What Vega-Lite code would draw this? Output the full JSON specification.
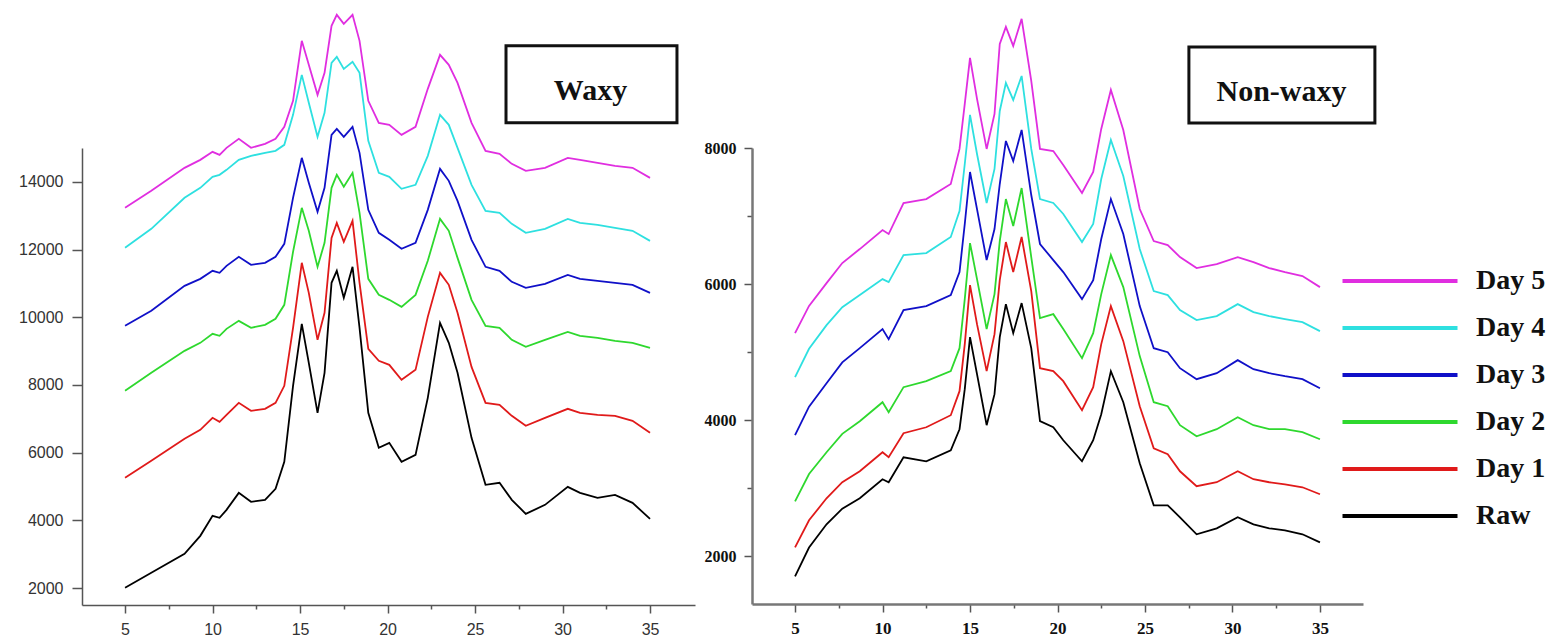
{
"$schema": "https://vega.github.io/schema/vega-lite/v6.json",
"padding": {"left": 18, "top": 11, "right": 5, "bottom": 0},
"background": "white",
"spacing": 57,
"bounds": "flush",
"data": {"values": [
{"p":"W","s":"Raw","x":5,"v":2007},{"p":"W","s":"Raw","x":6.5,"v":2450},{"p":"W","s":"Raw","x":8.4,"v":3011},{"p":"W","s":"Raw","x":9.3,"v":3543},{"p":"W","s":"Raw","x":10,"v":4134},{"p":"W","s":"Raw","x":10.4,"v":4075},{"p":"W","s":"Raw","x":10.8,"v":4311},{"p":"W","s":"Raw","x":11.5,"v":4813},{"p":"W","s":"Raw","x":12.2,"v":4548},{"p":"W","s":"Raw","x":13,"v":4607},{"p":"W","s":"Raw","x":13.6,"v":4932},{"p":"W","s":"Raw","x":14.1,"v":5729},{"p":"W","s":"Raw","x":14.6,"v":7974},{"p":"W","s":"Raw","x":15.1,"v":9806},{"p":"W","s":"Raw","x":15.5,"v":8654},{"p":"W","s":"Raw","x":16,"v":7177},{"p":"W","s":"Raw","x":16.4,"v":8358},{"p":"W","s":"Raw","x":16.8,"v":11017},{"p":"W","s":"Raw","x":17.1,"v":11371},{"p":"W","s":"Raw","x":17.5,"v":10574},{"p":"W","s":"Raw","x":18,"v":11489},{"p":"W","s":"Raw","x":18.4,"v":9688},{"p":"W","s":"Raw","x":18.9,"v":7177},{"p":"W","s":"Raw","x":19.5,"v":6143},{"p":"W","s":"Raw","x":20.1,"v":6290},{"p":"W","s":"Raw","x":20.8,"v":5729},{"p":"W","s":"Raw","x":21.6,"v":5936},{"p":"W","s":"Raw","x":22.3,"v":7620},{"p":"W","s":"Raw","x":23,"v":9835},{"p":"W","s":"Raw","x":23.5,"v":9244},{"p":"W","s":"Raw","x":24,"v":8358},{"p":"W","s":"Raw","x":24.8,"v":6438},{"p":"W","s":"Raw","x":25.6,"v":5050},{"p":"W","s":"Raw","x":26.4,"v":5109},{"p":"W","s":"Raw","x":27.1,"v":4607},{"p":"W","s":"Raw","x":27.9,"v":4193},{"p":"W","s":"Raw","x":29,"v":4459},{"p":"W","s":"Raw","x":30.3,"v":4991},{"p":"W","s":"Raw","x":31,"v":4813},{"p":"W","s":"Raw","x":32,"v":4666},{"p":"W","s":"Raw","x":33,"v":4754},{"p":"W","s":"Raw","x":34,"v":4518},{"p":"W","s":"Raw","x":35,"v":4045},
{"p":"W","s":"Day 1","x":5,"v":5256},{"p":"W","s":"Day 1","x":6.5,"v":5759},{"p":"W","s":"Day 1","x":8.4,"v":6409},{"p":"W","s":"Day 1","x":9.3,"v":6674},{"p":"W","s":"Day 1","x":10,"v":7029},{"p":"W","s":"Day 1","x":10.4,"v":6911},{"p":"W","s":"Day 1","x":10.8,"v":7118},{"p":"W","s":"Day 1","x":11.5,"v":7472},{"p":"W","s":"Day 1","x":12.2,"v":7236},{"p":"W","s":"Day 1","x":13,"v":7295},{"p":"W","s":"Day 1","x":13.6,"v":7472},{"p":"W","s":"Day 1","x":14.1,"v":7974},{"p":"W","s":"Day 1","x":14.6,"v":9688},{"p":"W","s":"Day 1","x":15.1,"v":11608},{"p":"W","s":"Day 1","x":15.5,"v":10721},{"p":"W","s":"Day 1","x":16,"v":9333},{"p":"W","s":"Day 1","x":16.4,"v":10131},{"p":"W","s":"Day 1","x":16.8,"v":12346},{"p":"W","s":"Day 1","x":17.1,"v":12789},{"p":"W","s":"Day 1","x":17.5,"v":12228},{"p":"W","s":"Day 1","x":18,"v":12848},{"p":"W","s":"Day 1","x":18.4,"v":11017},{"p":"W","s":"Day 1","x":18.9,"v":9067},{"p":"W","s":"Day 1","x":19.5,"v":8713},{"p":"W","s":"Day 1","x":20.1,"v":8595},{"p":"W","s":"Day 1","x":20.8,"v":8151},{"p":"W","s":"Day 1","x":21.6,"v":8447},{"p":"W","s":"Day 1","x":22.3,"v":10012},{"p":"W","s":"Day 1","x":23,"v":11312},{"p":"W","s":"Day 1","x":23.5,"v":10958},{"p":"W","s":"Day 1","x":24,"v":10131},{"p":"W","s":"Day 1","x":24.8,"v":8535},{"p":"W","s":"Day 1","x":25.6,"v":7472},{"p":"W","s":"Day 1","x":26.4,"v":7413},{"p":"W","s":"Day 1","x":27.1,"v":7088},{"p":"W","s":"Day 1","x":27.9,"v":6793},{"p":"W","s":"Day 1","x":29,"v":7029},{"p":"W","s":"Day 1","x":30.3,"v":7295},{"p":"W","s":"Day 1","x":31,"v":7177},{"p":"W","s":"Day 1","x":32,"v":7118},{"p":"W","s":"Day 1","x":33,"v":7088},{"p":"W","s":"Day 1","x":34,"v":6940},{"p":"W","s":"Day 1","x":35,"v":6586},
{"p":"W","s":"Day 2","x":5,"v":7826},{"p":"W","s":"Day 2","x":6.5,"v":8358},{"p":"W","s":"Day 2","x":8.4,"v":9008},{"p":"W","s":"Day 2","x":9.3,"v":9244},{"p":"W","s":"Day 2","x":10,"v":9510},{"p":"W","s":"Day 2","x":10.4,"v":9451},{"p":"W","s":"Day 2","x":10.8,"v":9658},{"p":"W","s":"Day 2","x":11.5,"v":9894},{"p":"W","s":"Day 2","x":12.2,"v":9688},{"p":"W","s":"Day 2","x":13,"v":9776},{"p":"W","s":"Day 2","x":13.6,"v":9953},{"p":"W","s":"Day 2","x":14.1,"v":10367},{"p":"W","s":"Day 2","x":14.6,"v":11933},{"p":"W","s":"Day 2","x":15.1,"v":13232},{"p":"W","s":"Day 2","x":15.5,"v":12553},{"p":"W","s":"Day 2","x":16,"v":11489},{"p":"W","s":"Day 2","x":16.4,"v":12198},{"p":"W","s":"Day 2","x":16.8,"v":13823},{"p":"W","s":"Day 2","x":17.1,"v":14207},{"p":"W","s":"Day 2","x":17.5,"v":13853},{"p":"W","s":"Day 2","x":18,"v":14266},{"p":"W","s":"Day 2","x":18.4,"v":13085},{"p":"W","s":"Day 2","x":18.9,"v":11135},{"p":"W","s":"Day 2","x":19.5,"v":10662},{"p":"W","s":"Day 2","x":20.1,"v":10515},{"p":"W","s":"Day 2","x":20.8,"v":10308},{"p":"W","s":"Day 2","x":21.6,"v":10662},{"p":"W","s":"Day 2","x":22.3,"v":11667},{"p":"W","s":"Day 2","x":23,"v":12907},{"p":"W","s":"Day 2","x":23.5,"v":12553},{"p":"W","s":"Day 2","x":24,"v":11755},{"p":"W","s":"Day 2","x":24.8,"v":10515},{"p":"W","s":"Day 2","x":25.6,"v":9747},{"p":"W","s":"Day 2","x":26.4,"v":9688},{"p":"W","s":"Day 2","x":27.1,"v":9333},{"p":"W","s":"Day 2","x":27.9,"v":9126},{"p":"W","s":"Day 2","x":29,"v":9333},{"p":"W","s":"Day 2","x":30.3,"v":9569},{"p":"W","s":"Day 2","x":31,"v":9451},{"p":"W","s":"Day 2","x":32,"v":9392},{"p":"W","s":"Day 2","x":33,"v":9303},{"p":"W","s":"Day 2","x":34,"v":9244},{"p":"W","s":"Day 2","x":35,"v":9097},
{"p":"W","s":"Day 3","x":5,"v":9747},{"p":"W","s":"Day 3","x":6.5,"v":10190},{"p":"W","s":"Day 3","x":8.4,"v":10928},{"p":"W","s":"Day 3","x":9.3,"v":11135},{"p":"W","s":"Day 3","x":10,"v":11371},{"p":"W","s":"Day 3","x":10.4,"v":11312},{"p":"W","s":"Day 3","x":10.8,"v":11519},{"p":"W","s":"Day 3","x":11.5,"v":11785},{"p":"W","s":"Day 3","x":12.2,"v":11549},{"p":"W","s":"Day 3","x":13,"v":11608},{"p":"W","s":"Day 3","x":13.6,"v":11785},{"p":"W","s":"Day 3","x":14.1,"v":12169},{"p":"W","s":"Day 3","x":14.6,"v":13528},{"p":"W","s":"Day 3","x":15.1,"v":14709},{"p":"W","s":"Day 3","x":15.5,"v":13971},{"p":"W","s":"Day 3","x":16,"v":13114},{"p":"W","s":"Day 3","x":16.4,"v":13823},{"p":"W","s":"Day 3","x":16.8,"v":15389},{"p":"W","s":"Day 3","x":17.1,"v":15566},{"p":"W","s":"Day 3","x":17.5,"v":15330},{"p":"W","s":"Day 3","x":18,"v":15625},{"p":"W","s":"Day 3","x":18.4,"v":14857},{"p":"W","s":"Day 3","x":18.9,"v":13173},{"p":"W","s":"Day 3","x":19.5,"v":12494},{"p":"W","s":"Day 3","x":20.1,"v":12287},{"p":"W","s":"Day 3","x":20.8,"v":12021},{"p":"W","s":"Day 3","x":21.6,"v":12198},{"p":"W","s":"Day 3","x":22.3,"v":13173},{"p":"W","s":"Day 3","x":23,"v":14384},{"p":"W","s":"Day 3","x":23.5,"v":14030},{"p":"W","s":"Day 3","x":24,"v":13439},{"p":"W","s":"Day 3","x":24.8,"v":12287},{"p":"W","s":"Day 3","x":25.6,"v":11489},{"p":"W","s":"Day 3","x":26.4,"v":11371},{"p":"W","s":"Day 3","x":27.1,"v":11046},{"p":"W","s":"Day 3","x":27.9,"v":10869},{"p":"W","s":"Day 3","x":29,"v":10987},{"p":"W","s":"Day 3","x":30.3,"v":11253},{"p":"W","s":"Day 3","x":31,"v":11135},{"p":"W","s":"Day 3","x":32,"v":11076},{"p":"W","s":"Day 3","x":33,"v":11017},{"p":"W","s":"Day 3","x":34,"v":10958},{"p":"W","s":"Day 3","x":35,"v":10721},
{"p":"W","s":"Day 4","x":5,"v":12051},{"p":"W","s":"Day 4","x":6.5,"v":12612},{"p":"W","s":"Day 4","x":8.4,"v":13528},{"p":"W","s":"Day 4","x":9.3,"v":13823},{"p":"W","s":"Day 4","x":10,"v":14148},{"p":"W","s":"Day 4","x":10.4,"v":14207},{"p":"W","s":"Day 4","x":10.8,"v":14355},{"p":"W","s":"Day 4","x":11.5,"v":14650},{"p":"W","s":"Day 4","x":12.2,"v":14768},{"p":"W","s":"Day 4","x":13,"v":14857},{"p":"W","s":"Day 4","x":13.6,"v":14916},{"p":"W","s":"Day 4","x":14.1,"v":15093},{"p":"W","s":"Day 4","x":14.6,"v":15980},{"p":"W","s":"Day 4","x":15.1,"v":17161},{"p":"W","s":"Day 4","x":15.5,"v":16334},{"p":"W","s":"Day 4","x":16,"v":15330},{"p":"W","s":"Day 4","x":16.4,"v":16039},{"p":"W","s":"Day 4","x":16.8,"v":17516},{"p":"W","s":"Day 4","x":17.1,"v":17693},{"p":"W","s":"Day 4","x":17.5,"v":17338},{"p":"W","s":"Day 4","x":18,"v":17545},{"p":"W","s":"Day 4","x":18.4,"v":17220},{"p":"W","s":"Day 4","x":18.9,"v":15211},{"p":"W","s":"Day 4","x":19.5,"v":14266},{"p":"W","s":"Day 4","x":20.1,"v":14148},{"p":"W","s":"Day 4","x":20.8,"v":13794},{"p":"W","s":"Day 4","x":21.6,"v":13912},{"p":"W","s":"Day 4","x":22.3,"v":14768},{"p":"W","s":"Day 4","x":23,"v":15980},{"p":"W","s":"Day 4","x":23.5,"v":15684},{"p":"W","s":"Day 4","x":24,"v":15005},{"p":"W","s":"Day 4","x":24.8,"v":13912},{"p":"W","s":"Day 4","x":25.6,"v":13144},{"p":"W","s":"Day 4","x":26.4,"v":13085},{"p":"W","s":"Day 4","x":27.1,"v":12760},{"p":"W","s":"Day 4","x":27.9,"v":12494},{"p":"W","s":"Day 4","x":29,"v":12612},{"p":"W","s":"Day 4","x":30.3,"v":12907},{"p":"W","s":"Day 4","x":31,"v":12789},{"p":"W","s":"Day 4","x":32,"v":12730},{"p":"W","s":"Day 4","x":33,"v":12641},{"p":"W","s":"Day 4","x":34,"v":12553},{"p":"W","s":"Day 4","x":35,"v":12257},
{"p":"W","s":"Day 5","x":5,"v":13232},{"p":"W","s":"Day 5","x":6.5,"v":13734},{"p":"W","s":"Day 5","x":8.4,"v":14414},{"p":"W","s":"Day 5","x":9.3,"v":14650},{"p":"W","s":"Day 5","x":10,"v":14887},{"p":"W","s":"Day 5","x":10.4,"v":14798},{"p":"W","s":"Day 5","x":10.8,"v":15005},{"p":"W","s":"Day 5","x":11.5,"v":15271},{"p":"W","s":"Day 5","x":12.2,"v":15005},{"p":"W","s":"Day 5","x":13,"v":15123},{"p":"W","s":"Day 5","x":13.6,"v":15271},{"p":"W","s":"Day 5","x":14.1,"v":15625},{"p":"W","s":"Day 5","x":14.6,"v":16393},{"p":"W","s":"Day 5","x":15.1,"v":18165},{"p":"W","s":"Day 5","x":15.5,"v":17457},{"p":"W","s":"Day 5","x":16,"v":16570},{"p":"W","s":"Day 5","x":16.4,"v":17220},{"p":"W","s":"Day 5","x":16.8,"v":18609},{"p":"W","s":"Day 5","x":17.1,"v":18934},{"p":"W","s":"Day 5","x":17.5,"v":18668},{"p":"W","s":"Day 5","x":18,"v":18934},{"p":"W","s":"Day 5","x":18.4,"v":18165},{"p":"W","s":"Day 5","x":18.9,"v":16393},{"p":"W","s":"Day 5","x":19.5,"v":15743},{"p":"W","s":"Day 5","x":20.1,"v":15684},{"p":"W","s":"Day 5","x":20.8,"v":15389},{"p":"W","s":"Day 5","x":21.6,"v":15625},{"p":"W","s":"Day 5","x":22.3,"v":16748},{"p":"W","s":"Day 5","x":23,"v":17752},{"p":"W","s":"Day 5","x":23.5,"v":17457},{"p":"W","s":"Day 5","x":24,"v":16925},{"p":"W","s":"Day 5","x":24.8,"v":15743},{"p":"W","s":"Day 5","x":25.6,"v":14916},{"p":"W","s":"Day 5","x":26.4,"v":14827},{"p":"W","s":"Day 5","x":27.1,"v":14532},{"p":"W","s":"Day 5","x":27.9,"v":14325},{"p":"W","s":"Day 5","x":29,"v":14414},{"p":"W","s":"Day 5","x":30.3,"v":14709},{"p":"W","s":"Day 5","x":31,"v":14650},{"p":"W","s":"Day 5","x":32,"v":14562},{"p":"W","s":"Day 5","x":33,"v":14473},{"p":"W","s":"Day 5","x":34,"v":14414},{"p":"W","s":"Day 5","x":35,"v":14118},
{"p":"N","s":"Raw","x":5,"v":1706},{"p":"N","s":"Raw","x":5.8,"v":2130},{"p":"N","s":"Raw","x":6.8,"v":2471},{"p":"N","s":"Raw","x":7.7,"v":2700},{"p":"N","s":"Raw","x":8.7,"v":2853},{"p":"N","s":"Raw","x":10,"v":3133},{"p":"N","s":"Raw","x":10.35,"v":3089},{"p":"N","s":"Raw","x":11.2,"v":3456},{"p":"N","s":"Raw","x":12.5,"v":3397},{"p":"N","s":"Raw","x":13.9,"v":3559},{"p":"N","s":"Raw","x":14.4,"v":3868},{"p":"N","s":"Raw","x":14.7,"v":4456},{"p":"N","s":"Raw","x":15,"v":5221},{"p":"N","s":"Raw","x":15.4,"v":4677},{"p":"N","s":"Raw","x":15.95,"v":3927},{"p":"N","s":"Raw","x":16.4,"v":4383},{"p":"N","s":"Raw","x":16.7,"v":5221},{"p":"N","s":"Raw","x":17.05,"v":5706},{"p":"N","s":"Raw","x":17.47,"v":5280},{"p":"N","s":"Raw","x":17.95,"v":5721},{"p":"N","s":"Raw","x":18.5,"v":5059},{"p":"N","s":"Raw","x":19,"v":3986},{"p":"N","s":"Raw","x":19.76,"v":3897},{"p":"N","s":"Raw","x":20.33,"v":3706},{"p":"N","s":"Raw","x":21.4,"v":3397},{"p":"N","s":"Raw","x":22.04,"v":3706},{"p":"N","s":"Raw","x":22.5,"v":4089},{"p":"N","s":"Raw","x":23.05,"v":4721},{"p":"N","s":"Raw","x":23.76,"v":4265},{"p":"N","s":"Raw","x":24.7,"v":3368},{"p":"N","s":"Raw","x":25.5,"v":2750},{"p":"N","s":"Raw","x":26.3,"v":2750},{"p":"N","s":"Raw","x":27,"v":2574},{"p":"N","s":"Raw","x":27.95,"v":2324},{"p":"N","s":"Raw","x":29.1,"v":2412},{"p":"N","s":"Raw","x":30.3,"v":2574},{"p":"N","s":"Raw","x":31.2,"v":2471},{"p":"N","s":"Raw","x":32.1,"v":2412},{"p":"N","s":"Raw","x":33,"v":2383},{"p":"N","s":"Raw","x":34,"v":2324},{"p":"N","s":"Raw","x":35,"v":2206},
{"p":"N","s":"Day 1","x":5,"v":2133},{"p":"N","s":"Day 1","x":5.8,"v":2530},{"p":"N","s":"Day 1","x":6.8,"v":2853},{"p":"N","s":"Day 1","x":7.7,"v":3090},{"p":"N","s":"Day 1","x":8.7,"v":3250},{"p":"N","s":"Day 1","x":10,"v":3530},{"p":"N","s":"Day 1","x":10.35,"v":3456},{"p":"N","s":"Day 1","x":11.2,"v":3809},{"p":"N","s":"Day 1","x":12.5,"v":3897},{"p":"N","s":"Day 1","x":13.9,"v":4074},{"p":"N","s":"Day 1","x":14.4,"v":4427},{"p":"N","s":"Day 1","x":14.7,"v":5118},{"p":"N","s":"Day 1","x":15,"v":5986},{"p":"N","s":"Day 1","x":15.4,"v":5412},{"p":"N","s":"Day 1","x":15.95,"v":4721},{"p":"N","s":"Day 1","x":16.4,"v":5265},{"p":"N","s":"Day 1","x":16.7,"v":6059},{"p":"N","s":"Day 1","x":17.05,"v":6618},{"p":"N","s":"Day 1","x":17.47,"v":6177},{"p":"N","s":"Day 1","x":17.95,"v":6692},{"p":"N","s":"Day 1","x":18.5,"v":5897},{"p":"N","s":"Day 1","x":19,"v":4765},{"p":"N","s":"Day 1","x":19.76,"v":4721},{"p":"N","s":"Day 1","x":20.33,"v":4574},{"p":"N","s":"Day 1","x":21.4,"v":4147},{"p":"N","s":"Day 1","x":22.04,"v":4486},{"p":"N","s":"Day 1","x":22.5,"v":5118},{"p":"N","s":"Day 1","x":23.05,"v":5677},{"p":"N","s":"Day 1","x":23.76,"v":5162},{"p":"N","s":"Day 1","x":24.7,"v":4206},{"p":"N","s":"Day 1","x":25.5,"v":3589},{"p":"N","s":"Day 1","x":26.3,"v":3500},{"p":"N","s":"Day 1","x":27,"v":3250},{"p":"N","s":"Day 1","x":27.95,"v":3030},{"p":"N","s":"Day 1","x":29.1,"v":3089},{"p":"N","s":"Day 1","x":30.3,"v":3250},{"p":"N","s":"Day 1","x":31.2,"v":3133},{"p":"N","s":"Day 1","x":32.1,"v":3089},{"p":"N","s":"Day 1","x":33,"v":3059},{"p":"N","s":"Day 1","x":34,"v":3015},{"p":"N","s":"Day 1","x":35,"v":2912},
{"p":"N","s":"Day 2","x":5,"v":2809},{"p":"N","s":"Day 2","x":5.8,"v":3210},{"p":"N","s":"Day 2","x":6.8,"v":3530},{"p":"N","s":"Day 2","x":7.7,"v":3800},{"p":"N","s":"Day 2","x":8.7,"v":3986},{"p":"N","s":"Day 2","x":10,"v":4265},{"p":"N","s":"Day 2","x":10.35,"v":4118},{"p":"N","s":"Day 2","x":11.2,"v":4486},{"p":"N","s":"Day 2","x":12.5,"v":4574},{"p":"N","s":"Day 2","x":13.9,"v":4721},{"p":"N","s":"Day 2","x":14.4,"v":5059},{"p":"N","s":"Day 2","x":14.7,"v":5780},{"p":"N","s":"Day 2","x":15,"v":6603},{"p":"N","s":"Day 2","x":15.4,"v":6074},{"p":"N","s":"Day 2","x":15.95,"v":5339},{"p":"N","s":"Day 2","x":16.4,"v":5853},{"p":"N","s":"Day 2","x":16.7,"v":6633},{"p":"N","s":"Day 2","x":17.05,"v":7250},{"p":"N","s":"Day 2","x":17.47,"v":6853},{"p":"N","s":"Day 2","x":17.95,"v":7412},{"p":"N","s":"Day 2","x":18.5,"v":6397},{"p":"N","s":"Day 2","x":19,"v":5500},{"p":"N","s":"Day 2","x":19.76,"v":5559},{"p":"N","s":"Day 2","x":20.33,"v":5339},{"p":"N","s":"Day 2","x":21.4,"v":4912},{"p":"N","s":"Day 2","x":22.04,"v":5280},{"p":"N","s":"Day 2","x":22.5,"v":5853},{"p":"N","s":"Day 2","x":23.05,"v":6427},{"p":"N","s":"Day 2","x":23.76,"v":5956},{"p":"N","s":"Day 2","x":24.7,"v":4942},{"p":"N","s":"Day 2","x":25.5,"v":4265},{"p":"N","s":"Day 2","x":26.3,"v":4206},{"p":"N","s":"Day 2","x":27,"v":3927},{"p":"N","s":"Day 2","x":27.95,"v":3765},{"p":"N","s":"Day 2","x":29.1,"v":3868},{"p":"N","s":"Day 2","x":30.3,"v":4044},{"p":"N","s":"Day 2","x":31.2,"v":3927},{"p":"N","s":"Day 2","x":32.1,"v":3868},{"p":"N","s":"Day 2","x":33,"v":3868},{"p":"N","s":"Day 2","x":34,"v":3824},{"p":"N","s":"Day 2","x":35,"v":3721},
{"p":"N","s":"Day 3","x":5,"v":3780},{"p":"N","s":"Day 3","x":5.8,"v":4200},{"p":"N","s":"Day 3","x":6.8,"v":4544},{"p":"N","s":"Day 3","x":7.7,"v":4850},{"p":"N","s":"Day 3","x":8.7,"v":5059},{"p":"N","s":"Day 3","x":10,"v":5339},{"p":"N","s":"Day 3","x":10.35,"v":5192},{"p":"N","s":"Day 3","x":11.2,"v":5618},{"p":"N","s":"Day 3","x":12.5,"v":5677},{"p":"N","s":"Day 3","x":13.9,"v":5839},{"p":"N","s":"Day 3","x":14.4,"v":6177},{"p":"N","s":"Day 3","x":14.7,"v":6883},{"p":"N","s":"Day 3","x":15,"v":7647},{"p":"N","s":"Day 3","x":15.4,"v":7103},{"p":"N","s":"Day 3","x":15.95,"v":6353},{"p":"N","s":"Day 3","x":16.4,"v":6809},{"p":"N","s":"Day 3","x":16.7,"v":7471},{"p":"N","s":"Day 3","x":17.05,"v":8103},{"p":"N","s":"Day 3","x":17.47,"v":7809},{"p":"N","s":"Day 3","x":17.95,"v":8265},{"p":"N","s":"Day 3","x":18.5,"v":7309},{"p":"N","s":"Day 3","x":19,"v":6589},{"p":"N","s":"Day 3","x":19.76,"v":6353},{"p":"N","s":"Day 3","x":20.33,"v":6177},{"p":"N","s":"Day 3","x":21.4,"v":5780},{"p":"N","s":"Day 3","x":22.04,"v":6059},{"p":"N","s":"Day 3","x":22.5,"v":6662},{"p":"N","s":"Day 3","x":23.05,"v":7250},{"p":"N","s":"Day 3","x":23.76,"v":6736},{"p":"N","s":"Day 3","x":24.7,"v":5677},{"p":"N","s":"Day 3","x":25.5,"v":5059},{"p":"N","s":"Day 3","x":26.3,"v":5000},{"p":"N","s":"Day 3","x":27,"v":4765},{"p":"N","s":"Day 3","x":27.95,"v":4603},{"p":"N","s":"Day 3","x":29.1,"v":4692},{"p":"N","s":"Day 3","x":30.3,"v":4883},{"p":"N","s":"Day 3","x":31.2,"v":4750},{"p":"N","s":"Day 3","x":32.1,"v":4692},{"p":"N","s":"Day 3","x":33,"v":4647},{"p":"N","s":"Day 3","x":34,"v":4603},{"p":"N","s":"Day 3","x":35,"v":4471},
{"p":"N","s":"Day 4","x":5,"v":4633},{"p":"N","s":"Day 4","x":5.8,"v":5050},{"p":"N","s":"Day 4","x":6.8,"v":5397},{"p":"N","s":"Day 4","x":7.7,"v":5660},{"p":"N","s":"Day 4","x":8.7,"v":5839},{"p":"N","s":"Day 4","x":10,"v":6074},{"p":"N","s":"Day 4","x":10.35,"v":6030},{"p":"N","s":"Day 4","x":11.2,"v":6427},{"p":"N","s":"Day 4","x":12.5,"v":6456},{"p":"N","s":"Day 4","x":13.9,"v":6692},{"p":"N","s":"Day 4","x":14.4,"v":7074},{"p":"N","s":"Day 4","x":14.7,"v":7765},{"p":"N","s":"Day 4","x":15,"v":8486},{"p":"N","s":"Day 4","x":15.4,"v":7912},{"p":"N","s":"Day 4","x":15.95,"v":7192},{"p":"N","s":"Day 4","x":16.4,"v":7692},{"p":"N","s":"Day 4","x":16.7,"v":8544},{"p":"N","s":"Day 4","x":17.05,"v":8956},{"p":"N","s":"Day 4","x":17.47,"v":8706},{"p":"N","s":"Day 4","x":17.95,"v":9059},{"p":"N","s":"Day 4","x":18.5,"v":7986},{"p":"N","s":"Day 4","x":19,"v":7250},{"p":"N","s":"Day 4","x":19.76,"v":7192},{"p":"N","s":"Day 4","x":20.33,"v":7030},{"p":"N","s":"Day 4","x":21.4,"v":6618},{"p":"N","s":"Day 4","x":22.04,"v":6883},{"p":"N","s":"Day 4","x":22.5,"v":7544},{"p":"N","s":"Day 4","x":23.05,"v":8118},{"p":"N","s":"Day 4","x":23.76,"v":7589},{"p":"N","s":"Day 4","x":24.7,"v":6515},{"p":"N","s":"Day 4","x":25.5,"v":5897},{"p":"N","s":"Day 4","x":26.3,"v":5839},{"p":"N","s":"Day 4","x":27,"v":5618},{"p":"N","s":"Day 4","x":27.95,"v":5471},{"p":"N","s":"Day 4","x":29.1,"v":5530},{"p":"N","s":"Day 4","x":30.3,"v":5706},{"p":"N","s":"Day 4","x":31.2,"v":5589},{"p":"N","s":"Day 4","x":32.1,"v":5530},{"p":"N","s":"Day 4","x":33,"v":5486},{"p":"N","s":"Day 4","x":34,"v":5441},{"p":"N","s":"Day 4","x":35,"v":5309},
{"p":"N","s":"Day 5","x":5,"v":5280},{"p":"N","s":"Day 5","x":5.8,"v":5680},{"p":"N","s":"Day 5","x":6.8,"v":6015},{"p":"N","s":"Day 5","x":7.7,"v":6310},{"p":"N","s":"Day 5","x":8.7,"v":6515},{"p":"N","s":"Day 5","x":10,"v":6794},{"p":"N","s":"Day 5","x":10.35,"v":6736},{"p":"N","s":"Day 5","x":11.2,"v":7192},{"p":"N","s":"Day 5","x":12.5,"v":7250},{"p":"N","s":"Day 5","x":13.9,"v":7471},{"p":"N","s":"Day 5","x":14.4,"v":7986},{"p":"N","s":"Day 5","x":14.7,"v":8647},{"p":"N","s":"Day 5","x":15,"v":9324},{"p":"N","s":"Day 5","x":15.4,"v":8721},{"p":"N","s":"Day 5","x":15.95,"v":7986},{"p":"N","s":"Day 5","x":16.4,"v":8500},{"p":"N","s":"Day 5","x":16.7,"v":9530},{"p":"N","s":"Day 5","x":17.05,"v":9780},{"p":"N","s":"Day 5","x":17.47,"v":9500},{"p":"N","s":"Day 5","x":17.95,"v":9897},{"p":"N","s":"Day 5","x":18.5,"v":8986},{"p":"N","s":"Day 5","x":19,"v":7986},{"p":"N","s":"Day 5","x":19.76,"v":7956},{"p":"N","s":"Day 5","x":20.33,"v":7750},{"p":"N","s":"Day 5","x":21.4,"v":7339},{"p":"N","s":"Day 5","x":22.04,"v":7647},{"p":"N","s":"Day 5","x":22.5,"v":8280},{"p":"N","s":"Day 5","x":23.05,"v":8853},{"p":"N","s":"Day 5","x":23.76,"v":8265},{"p":"N","s":"Day 5","x":24.7,"v":7103},{"p":"N","s":"Day 5","x":25.5,"v":6633},{"p":"N","s":"Day 5","x":26.3,"v":6574},{"p":"N","s":"Day 5","x":27,"v":6397},{"p":"N","s":"Day 5","x":27.95,"v":6236},{"p":"N","s":"Day 5","x":29.1,"v":6294},{"p":"N","s":"Day 5","x":30.3,"v":6397},{"p":"N","s":"Day 5","x":31.2,"v":6324},{"p":"N","s":"Day 5","x":32.1,"v":6236},{"p":"N","s":"Day 5","x":33,"v":6177},{"p":"N","s":"Day 5","x":34,"v":6118},{"p":"N","s":"Day 5","x":35,"v":5956}
]},
"hconcat": [
 {
  "width": 613, "height": 457,
  "layer": [
   {
    "transform": [{"filter": "datum.p === 'W'"}],
    "mark": {"type": "line", "strokeWidth": 1.8, "clip": false},
    "encoding": {
     "x": {"field": "x", "type": "quantitative",
       "scale": {"domain": [2.54, 37.57], "nice": false, "zero": false},
       "axis": {"values": [5,7.5,10,12.5,15,17.5,20,22.5,25,27.5,30,32.5,35], "format": "~g",
         "labelExpr": "datum.value % 5 === 0 ? datum.label : ''",
         "tickSize": {"condition": {"test": "datum.value % 5 === 0", "value": 8}, "value": 4},
         "tickColor": "#555", "tickWidth": 1.5, "domainColor": "#555", "domainWidth": 1.5,
         "labelFont": "Liberation Sans", "labelFontSize": 16, "labelColor": "#333", "labelPadding": 8,
         "grid": false, "title": null}},
     "y": {"field": "v", "type": "quantitative",
       "scale": {"domain": [1500, 15000], "nice": false, "zero": false},
       "axis": {"values": [2000,3000,4000,5000,6000,7000,8000,9000,10000,11000,12000,13000,14000], "format": "d",
         "labelExpr": "datum.value % 2000 === 0 ? datum.label : ''",
         "tickSize": {"condition": {"test": "datum.value % 2000 === 0", "value": 10}, "value": 5},
         "tickColor": "#555", "tickWidth": 1.5, "domainColor": "#555", "domainWidth": 1.5,
         "labelFont": "Liberation Sans", "labelFontSize": 16, "labelColor": "#333", "labelPadding": 9,
         "grid": false, "title": null}},
     "color": {"field": "s", "type": "nominal",
       "scale": {"domain": ["Day 5","Day 4","Day 3","Day 2","Day 1","Raw"], "range": ["#e02ee0","#2ee0e0","#1010c8","#2ed82e","#e01a1a","#000000"]},
       "legend": null}
    }
   },
   {
    "data": {"values": [{}]},
    "mark": {"type": "rect", "fill": "white", "stroke": "#111", "strokeWidth": 3, "clip": false},
    "encoding": {"x": {"datum": 26.77}, "x2": {"datum": 36.54}, "y": {"datum": 18018}, "y2": {"datum": 15743}}
   },
   {
    "data": {"values": [{}]},
    "mark": {"type": "text", "text": "Waxy", "font": "Liberation Serif", "fontWeight": "bold", "fontSize": 30, "align": "center", "baseline": "alphabetic", "color": "#111", "clip": false},
    "encoding": {"x": {"datum": 31.6}, "y": {"datum": 16422}}
   }
  ]
 },
 {
  "width": 611, "height": 456,
  "layer": [
   {
    "transform": [{"filter": "datum.p === 'N'"}],
    "mark": {"type": "line", "strokeWidth": 1.8, "clip": false},
    "encoding": {
     "x": {"field": "x", "type": "quantitative",
       "scale": {"domain": [2.54, 37.46], "nice": false, "zero": false},
       "axis": {"values": [5,7.5,10,12.5,15,17.5,20,22.5,25,27.5,30,32.5,35,37.5], "format": "~g",
         "labelExpr": "datum.value % 5 === 0 ? datum.label : ''",
         "tickSize": {"condition": {"test": "datum.value % 5 === 0", "value": 8}, "value": 4},
         "tickColor": "#555", "tickWidth": 1.5, "domainColor": "#777", "domainWidth": 2.5,
         "labelFont": "Liberation Serif", "labelFontWeight": "bold", "labelFontSize": 17, "labelColor": "#111", "labelPadding": 8,
         "grid": false, "title": null}},
     "y": {"field": "v", "type": "quantitative",
       "scale": {"domain": [1300, 8000], "nice": false, "zero": false},
       "axis": {"values": [2000,3000,4000,5000,6000,7000,8000], "format": "d",
         "labelExpr": "datum.value % 2000 === 0 ? datum.label : ''",
         "tickSize": {"condition": {"test": "datum.value % 2000 === 0", "value": 8}, "value": 5},
         "tickColor": "#555", "tickWidth": 1.5, "domainColor": "#777", "domainWidth": 2.5,
         "labelFont": "Liberation Serif", "labelFontWeight": "bold", "labelFontSize": 16, "labelColor": "#111", "labelPadding": 8,
         "grid": false, "title": null}},
     "color": {"field": "s", "type": "nominal",
       "scale": {"domain": ["Day 5","Day 4","Day 3","Day 2","Day 1","Raw"], "range": ["#e02ee0","#2ee0e0","#1010c8","#2ed82e","#e01a1a","#000000"]},
       "legend": {"orient": "none", "legendX": 634, "legendY": 119, "title": null,
         "symbolType": "M-10,0H10", "symbolSize": 132.25, "symbolStrokeWidth": 4,
         "labelFont": "Liberation Serif", "labelFontWeight": "bold", "labelFontSize": 28, "labelColor": "#111",
         "labelOffset": 62, "rowPadding": 19, "labelLimit": 300}}
    }
   },
   {
    "data": {"values": [{}]},
    "mark": {"type": "rect", "fill": "white", "stroke": "#111", "strokeWidth": 3, "clip": false},
    "encoding": {"x": {"datum": 27.51}, "x2": {"datum": 38.14}, "y": {"datum": 9485}, "y2": {"datum": 8368}}
   },
   {
    "data": {"values": [{}]},
    "mark": {"type": "text", "text": "Non-waxy", "font": "Liberation Serif", "fontWeight": "bold", "fontSize": 30, "align": "center", "baseline": "alphabetic", "color": "#111", "clip": false},
    "encoding": {"x": {"datum": 32.8}, "y": {"datum": 8691}}
   }
  ]
 }
],
"resolve": {"scale": {"x": "independent", "y": "independent", "color": "shared"}, "legend": {"color": "independent"}},
"config": {"view": {"stroke": null}, "axis": {"grid": false}}
}
